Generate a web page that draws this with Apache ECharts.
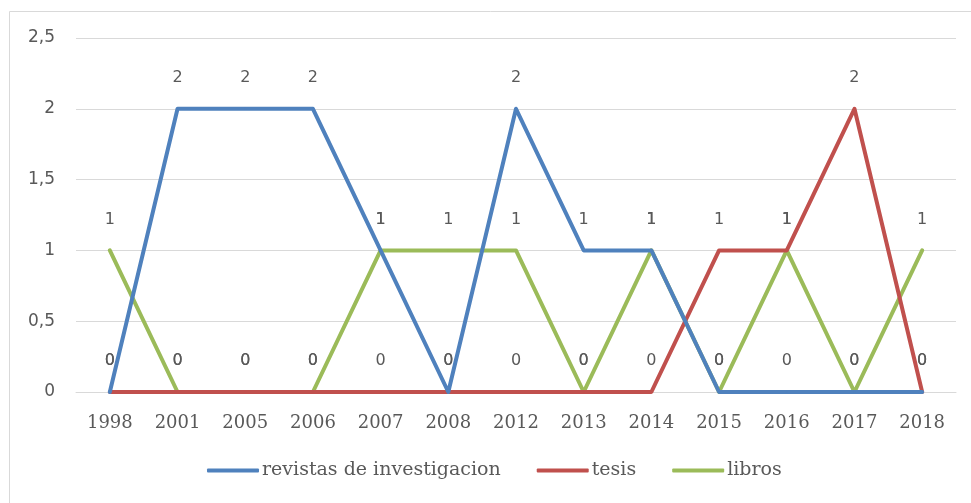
<!DOCTYPE html>
<html>
<head>
<meta charset="utf-8">
<script src="https://cdn.jsdelivr.net/npm/echarts@6/dist/echarts.min.js"></script>
<style>html,body{margin:0;padding:0;background:#fff}#c{width:971px;height:503px}</style>
</head>
<body>
<div id="c"></div>
<script>
var categories = ['1998','2001','2005','2006','2007','2008','2012','2013','2014','2015','2016','2017','2018'];
var revistas = [0,2,2,2,1,0,2,1,1,0,0,0,0];
var tesis =    [0,0,0,0,0,0,0,0,0,1,1,2,0];
var libros =   [1,0,0,0,1,1,1,0,1,0,1,0,1];
var seriesNames = ['revistas de investigacion','tesis','libros'];
var yTicks = {min:0, max:2.5, interval:0.5};

var chart = echarts.init(document.getElementById('c'), null, {renderer:'canvas'});
var colors = ['#4F81BD','#C0504D','#9BBB59'];
var sets = [revistas, tesis, libros];
function mk(i){
  return {
    name: seriesNames[i], type:'line', data: sets[i],
    symbol:'circle', symbolSize:2, showSymbol:true,
    lineStyle:{width:4, color:colors[i], cap:'round', join:'round'},
    itemStyle:{color:colors[i]},
    label:{show:true, position:'top', distance:22, color:'#595959', fontSize:16,
      fontFamily:'DejaVu Sans', formatter:function(p){return String(p.value);}},
    labelLayout:{hideOverlap:false},
    emphasis:{disabled:true}, animation:false, z: 3-i
  };
}
chart.setOption({
  animation:false,
  graphic:[{type:'rect', shape:{x:9.5,y:11.5,width:1000,height:1000}, style:{fill:'none', stroke:'#d9d9d9', lineWidth:1}, silent:true, z:-1}],
  grid:{left:76, right:15, top:38, bottom:111},
  legend:{top:456, left:202, itemWidth:52, itemHeight:4, itemGap:36,
    icon:'roundRect',
    textStyle:{fontFamily:'DejaVu Serif', fontSize:19, color:'#595959', padding:[0,0,0,-2]},
    data: seriesNames},
  xAxis:{type:'category', data:categories, boundaryGap:true,
    axisLine:{show:true, lineStyle:{color:'#d9d9d9', width:1}}, axisTick:{show:false},
    axisLabel:{color:'#595959', fontSize:18, fontFamily:'DejaVu Serif', margin:22}},
  yAxis:{type:'value', min:yTicks.min, max:yTicks.max, interval:yTicks.interval,
    axisLine:{show:false}, axisTick:{show:false},
    splitLine:{lineStyle:{color:'#d9d9d9', width:1}},
    axisLabel:{color:'#595959', fontSize:17, fontFamily:'DejaVu Sans', margin:21,
      formatter:function(v){return String(v).replace('.',',');}}},
  series:[mk(0), mk(1), mk(2)]
});
</script>
</body>
</html>
